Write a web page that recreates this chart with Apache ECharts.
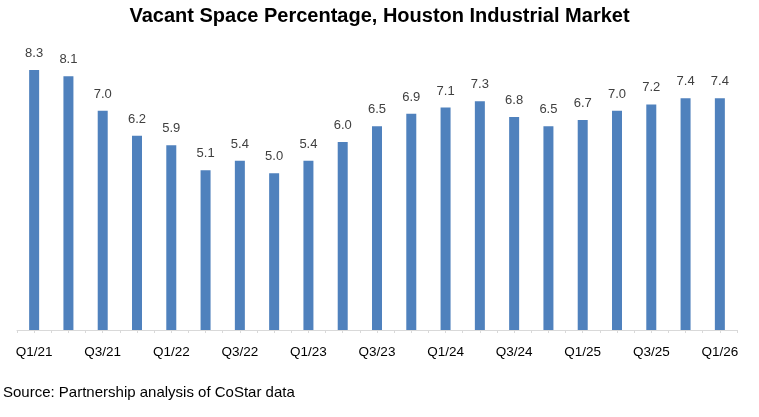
<!DOCTYPE html>
<html>
<head>
<meta charset="utf-8">
<script src="https://cdn.jsdelivr.net/npm/echarts@6/dist/echarts.min.js"></script>
<style>
html,body{margin:0;padding:0;background:#fff;}
#c{width:759px;height:417px;}
</style>
</head>
<body>
<div id="c"></div>
<script>
var categories = ["Q1/21","Q2/21","Q3/21","Q4/21","Q1/22","Q2/22","Q3/22","Q4/22","Q1/23","Q2/23","Q3/23","Q4/23","Q1/24","Q2/24","Q3/24","Q4/24","Q1/25","Q2/25","Q3/25","Q4/25","Q1/26"];
var vacancy = [8.3,8.1,7.0,6.2,5.9,5.1,5.4,5.0,5.4,6.0,6.5,6.9,7.1,7.3,6.8,6.5,6.7,7.0,7.2,7.4,7.4];
var titleText = "Vacant Space Percentage, Houston Industrial Market";
var sourceText = "Source: Partnership analysis of CoStar data";

var chart = echarts.init(document.getElementById('c'), null, {renderer:'canvas'});
var FONT = "Liberation Sans";
chart.setOption({
  animation:false,
  backgroundColor:'#ffffff',
  title:{
    text:titleText,
    left:'center', top:1,
    textStyle:{fontFamily:FONT, fontSize:20, fontWeight:'bold', color:'#000000'}
  },
  graphic:[{
    type:'text', left:3, top:385,
    style:{text:sourceText, fontFamily:FONT, fontSize:15, fill:'#000000'}
  }],
  grid:{left:17, right:22, top:48, bottom:87, containLabel:false},
  xAxis:[{
    type:'category', data:categories, boundaryGap:true,
    axisLine:{show:true, lineStyle:{color:'#d9d9d9', width:1}},
    axisTick:{show:true, interval:0, length:3, alignWithLabel:false, lineStyle:{color:'#d9d9d9'}},
    axisLabel:{interval:1, margin:15, fontFamily:FONT, fontSize:13.5, color:'#000000'}
  },{
    type:'category', data:categories, boundaryGap:true, position:'bottom',
    axisLine:{show:false},
    axisTick:{show:true, interval:0, length:3, alignWithLabel:true, inside:false, lineStyle:{color:'#d9d9d9'}},
    axisLabel:{show:false}
  }],
  yAxis:{type:'value', min:0, max:9, show:false, splitLine:{show:false}},
  series:[{
    type:'bar', data:vacancy, xAxisIndex:0,
    barWidth:10,
    itemStyle:{color:'#4f81bd'},
    label:{show:true, position:'top', distance:10, formatter:function(p){return p.value.toFixed(1);},
      fontFamily:FONT, fontSize:13, color:'#404040'}
  }]
});
</script>
</body>
</html>
